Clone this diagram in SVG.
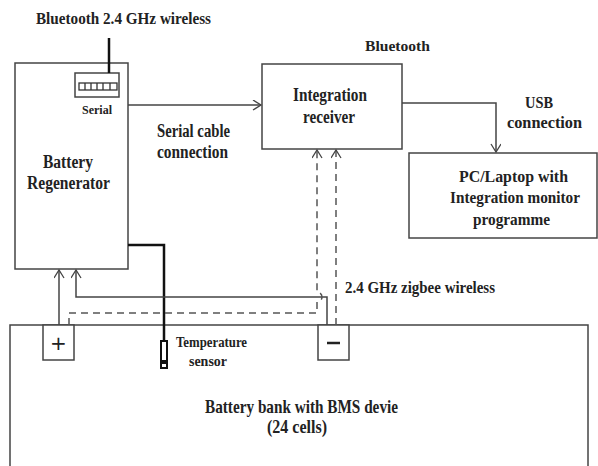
<svg xmlns="http://www.w3.org/2000/svg" width="598" height="466" viewBox="0 0 598 466">
<defs>
<style>
.box{fill:#fff;stroke:#444;stroke-width:1.5}
.ln{fill:none;stroke:#444;stroke-width:1.5}
.dash{fill:none;stroke:#555;stroke-width:1.5;stroke-dasharray:7,5}
.thick{fill:none;stroke:#111;stroke-width:2.5}
text{font-family:"Liberation Serif","Times New Roman",serif;font-weight:bold;fill:#222}
.t19{font-size:19px}
.t18{font-size:18px}
.t17{font-size:17px}
.t16{font-size:16px}
.t15{font-size:15px}
.t14{font-size:14px}
.t12{font-size:12px}
</style>
<marker id="arr" markerWidth="12" markerHeight="12" refX="9" refY="5" orient="auto" markerUnits="userSpaceOnUse">
<path d="M1,0 L9,5 L1,10" fill="none" stroke="#444" stroke-width="1.3"/>
</marker>
</defs>
<rect width="598" height="466" fill="#fff"/>

<g id="bank">
<rect class="box" x="10" y="325" width="578" height="150"/>
<text class="t19" x="205" y="413" textLength="193" lengthAdjust="spacingAndGlyphs">Battery bank with BMS devie</text>
<text class="t19" x="267" y="433" textLength="60" lengthAdjust="spacingAndGlyphs">(24 cells)</text>
</g>
<g id="plus">
<rect class="box" x="43" y="325" width="31" height="35"/>
<text style="font-size:20px;font-family:'DejaVu Sans',sans-serif;font-weight:normal;text-anchor:middle" x="58.5" y="350">+</text>
</g>
<g id="minus">
<rect class="box" x="318" y="325" width="31" height="35"/>
<line x1="327" y1="343" x2="340" y2="343" stroke="#222" stroke-width="2.5"/>
</g>
<g id="sensor">
<rect x="161" y="341" width="6" height="27" fill="#fff" stroke="#111" stroke-width="2"/>
<rect x="162" y="360" width="4" height="4" fill="#111"/>
<text class="t14" x="176" y="347" textLength="71" lengthAdjust="spacingAndGlyphs">Temperature</text>
<text class="t14" x="189" y="366" textLength="38" lengthAdjust="spacingAndGlyphs">sensor</text>
</g>

<g id="regenerator">
<rect class="box" x="15" y="63" width="113" height="206"/>
<rect class="box" x="75" y="73" width="44" height="24"/>
<rect x="79" y="83" width="38" height="7" fill="none" stroke="#333" stroke-width="1.3"/>
<path d="M85,83 V90 M91,83 V90 M97,83 V90 M103,83 V90 M110,83 V90" stroke="#333" stroke-width="1.3"/>
<text class="t12" x="82" y="114" textLength="30" lengthAdjust="spacingAndGlyphs">Serial</text>
<text class="t18" x="43" y="168" textLength="50" lengthAdjust="spacingAndGlyphs">Battery</text>
<text class="t18" x="27" y="189" textLength="83" lengthAdjust="spacingAndGlyphs">Regenerator</text>
</g>

<g id="receiver">
<rect class="box" x="262" y="64" width="140" height="85"/>
<text class="t18" x="293" y="101" textLength="74" lengthAdjust="spacingAndGlyphs">Integration</text>
<text class="t18" x="303" y="123" textLength="52" lengthAdjust="spacingAndGlyphs">receiver</text>
</g>

<g id="pc">
<rect class="box" x="409" y="153" width="188" height="85"/>
<text class="t17" x="459" y="182" textLength="109" lengthAdjust="spacingAndGlyphs">PC/Laptop with</text>
<text class="t17" x="450" y="203" textLength="130" lengthAdjust="spacingAndGlyphs">Integration monitor</text>
<text class="t17" x="473" y="225" textLength="77" lengthAdjust="spacingAndGlyphs">programme</text>
</g>

<g id="labels">
<text class="t17" x="36" y="24" textLength="175" lengthAdjust="spacingAndGlyphs">Bluetooth 2.4 GHz wireless</text>
<text class="t15" x="365" y="51" textLength="65" lengthAdjust="spacingAndGlyphs">Bluetooth</text>
<text class="t18" x="157" y="137" textLength="73" lengthAdjust="spacingAndGlyphs">Serial cable</text>
<text class="t18" x="157" y="158" textLength="71" lengthAdjust="spacingAndGlyphs">connection</text>
<text class="t17" x="525" y="108" textLength="28" lengthAdjust="spacingAndGlyphs">USB</text>
<text class="t17" x="507" y="128" textLength="75" lengthAdjust="spacingAndGlyphs">connection</text>
<text class="t16" x="345" y="293" textLength="150" lengthAdjust="spacingAndGlyphs">2.4 GHz zigbee wireless</text>
</g>

<g id="connectors">
<line class="thick" x1="109" y1="38" x2="109" y2="73"/>
<path class="thick" d="M128,245 H164 V341"/>
<path class="ln" d="M128,105 H261" marker-end="url(#arr)"/>
<path class="ln" d="M402,103 H496 V152" marker-end="url(#arr)"/>
<path class="ln" d="M59,325 V270" marker-end="url(#arr)"/>
<path class="ln" d="M327,325 V297 H76 V270" marker-end="url(#arr)"/>
<path class="dash" d="M69,325 V313 H317 V302 A5,5 0 0 0 317,292 V150" marker-end="url(#arr)"/>
<path class="dash" d="M336,325 V150" marker-end="url(#arr)"/>
</g>
</svg>
